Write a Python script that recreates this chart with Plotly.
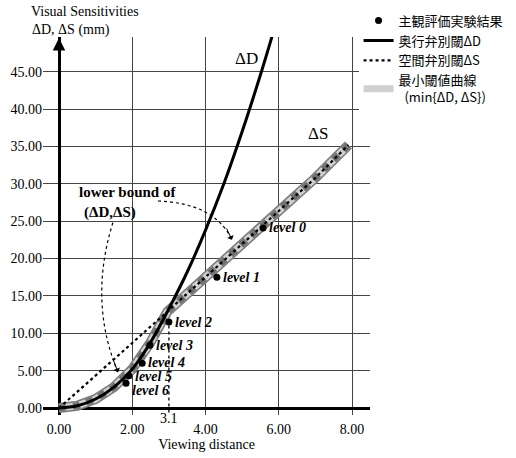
import plotly.graph_objects as go

# ---- data ----
level_labels = ["level 0", "level 1", "level 2", "level 3", "level 4", "level 5", "level 6"]
level_x = [5.57, 4.31, 3.00, 2.48, 2.27, 1.91, 1.83]
level_y = [24.1, 17.5, 11.5, 8.4, 6.0, 4.3, 3.3]
label_dy = [0, 0, 0, 0, 1, -1, -7]   # pixel nudge of labels

dD_x = [0, 0.5, 1.0, 1.5, 2.0, 2.5, 3.0, 3.5, 4.0, 4.5, 5.0, 5.5, 5.85]
dD_y = [0, 0.3, 1.2, 2.8, 5.2, 8.8, 13.3, 18.2, 23.8, 30.0, 37.0, 44.6, 50.3]

dS_x = [0, 1, 2, 3, 4, 5, 6, 7, 7.9]
dS_y = [0, 4.3, 8.7, 13.1, 17.5, 21.9, 26.3, 30.8, 35.2]

min_x = [0, 0.5, 1.0, 1.5, 2.0, 2.5, 2.96, 4, 5, 6, 7, 7.9]
min_y = [0, 0.3, 1.2, 2.8, 5.2, 8.8, 12.9, 17.5, 21.9, 26.3, 30.8, 35.2]

x_ticks = [0, 2, 4, 6, 8]
y_ticks = [0, 5, 10, 15, 20, 25, 30, 35, 40, 45]

SERIF = "Liberation Serif, Times New Roman, serif"
JP = "Noto Sans CJK JP"

fig = go.Figure()

# hatched minimum-threshold band
fig.add_trace(go.Scatter(x=min_x, y=min_y, mode="lines", line=dict(color="#7a7a7a", width=10),
                         showlegend=False, hoverinfo="skip"))
fig.add_trace(go.Scatter(x=min_x, y=min_y, mode="lines", line=dict(color="#d0d0d0", width=7),
                         name="最小閾値曲線<br>\u00a0\u00a0(min{ΔD, ΔS})", legendrank=4))
fig.add_trace(go.Scatter(x=min_x, y=min_y, mode="lines", line=dict(color="#707070", width=7, dash="dot"),
                         showlegend=False, hoverinfo="skip"))

# ΔD depth threshold
fig.add_trace(go.Scatter(x=dD_x, y=dD_y, mode="lines", line=dict(color="black", width=3, shape="spline"),
                         name="奥行弁別閾ΔD", legendrank=2))
# ΔS spatial threshold
fig.add_trace(go.Scatter(x=dS_x, y=dS_y, mode="lines", line=dict(color="black", width=2.2, dash="dot"),
                         name="空間弁別閾ΔS", legendrank=3))

# vertical dotted guide at level 2
fig.add_trace(go.Scatter(x=[level_x[2], level_x[2]], y=[-0.6, level_y[2]], mode="lines",
                         line=dict(color="black", width=1.3, dash="dot"), showlegend=False, hoverinfo="skip"))

# experimental points
fig.add_trace(go.Scatter(x=level_x, y=level_y, mode="markers",
                         marker=dict(color="black", size=7), name="主観評価実験結果", legendrank=1))

annotations = [
    dict(text="Visual Sensitivities", xref="paper", yref="paper", x=-0.042, y=1.067,
         xanchor="left", yanchor="middle", showarrow=False, font=dict(family=SERIF, size=14, color="black")),
    dict(text="ΔD, ΔS (mm)", xref="paper", yref="paper", x=-0.039, y=1.019,
         xanchor="left", yanchor="middle", showarrow=False, font=dict(family=SERIF, size=14, color="black")),
    dict(text="ΔD", x=5.13, y=46.8, showarrow=False, font=dict(family=SERIF, size=17, color="black")),
    dict(text="ΔS", x=7.07, y=36.7, showarrow=False, font=dict(family=SERIF, size=17, color="black")),
    dict(text="<b>lower bound of</b>", x=1.86, y=28.9, showarrow=False,
         font=dict(family=SERIF, size=15, color="black")),
    dict(text="<b>(ΔD,ΔS)</b>", x=1.39, y=26.2, showarrow=False,
         font=dict(family=SERIF, size=15, color="black")),
    dict(text="3.1", x=level_x[2], xref="x", yref="paper", y=-0.01, showarrow=False, yanchor="middle",
         font=dict(family=SERIF, size=14, color="black")),
    dict(text="D(m)", x=8.72, y=0, xanchor="left", showarrow=False,
         font=dict(family=SERIF, size=15, color="black")),
    # axis arrowheads
    dict(text="", x=8.68, y=0, ax=-14, ay=0, showarrow=True, arrowhead=2, arrowsize=1,
         arrowwidth=2.5, arrowcolor="black", standoff=0),
    dict(text="", x=0, y=49.5, ax=0, ay=14, showarrow=True, arrowhead=2, arrowsize=1,
         arrowwidth=2.5, arrowcolor="black", standoff=0),
    # arrowheads for curved pointers
    dict(text="", x=4.72, y=22.5, ax=-6, ay=-13, showarrow=True, arrowhead=1, arrowsize=1.2,
         arrowwidth=1, arrowcolor="black", standoff=0),
    dict(text="", x=1.61, y=4.8, ax=-5, ay=-13, showarrow=True, arrowhead=1, arrowsize=1.2,
         arrowwidth=1, arrowcolor="black", standoff=0),
]

for lab, lx, ly, dy in zip(level_labels, level_x, level_y, label_dy):
    annotations.append(dict(text="<b><i>" + lab + "</i></b>", x=lx, y=ly, xanchor="left",
                            yanchor="middle", xshift=4, yshift=dy, showarrow=False,
                            font=dict(family=SERIF, size=14, color="black")))

shapes = [
    dict(type="path", xref="x", yref="y", path="M 2.70,27.7 Q 4.26,27.4 4.72,22.5",
         line=dict(color="black", width=1.2, dash="dot")),
    dict(type="path", xref="x", yref="y", path="M 1.47,24.8 Q 0.80,14.2 1.61,4.8",
         line=dict(color="black", width=1.2, dash="dot")),
]

fig.update_layout(
    width=516, height=458,
    margin=dict(l=43, r=146, t=37, b=43, autoexpand=False),
    paper_bgcolor="white", plot_bgcolor="white",
    font=dict(family=SERIF, size=14, color="black"),
    annotations=annotations, shapes=shapes,
    legend=dict(x=0.965, y=1.083, xanchor="left", yanchor="top", bgcolor="white",
                font=dict(family=JP, size=13, color="black"), itemwidth=30,
                tracegroupgap=0),
    xaxis=dict(range=[-0.437, 8.49], tickvals=x_ticks, tickformat=".2f", automargin=False,
               showgrid=True, gridcolor="#444", gridwidth=1,
               zeroline=True, zerolinecolor="black", zerolinewidth=3,
               showline=False, ticks="", ticklabelstandoff=4,
               tickfont=dict(family=SERIF, size=14, color="black"),
               title=dict(text="Viewing distance", standoff=0,
                          font=dict(family=SERIF, size=14, color="black"))),
    yaxis=dict(range=[-0.937, 49.65], tickvals=y_ticks, tickformat=".2f", automargin=False,
               showgrid=True, gridcolor="#444", gridwidth=1,
               zeroline=True, zerolinecolor="black", zerolinewidth=3,
               showline=False, ticks="", ticklabelstandoff=0,
               tickfont=dict(family=SERIF, size=14, color="black")),
)

fig.write_html("out.html", config={"displayModeBar": False},
               post_script="document.body.style.margin='0';document.body.style.padding='0';")
